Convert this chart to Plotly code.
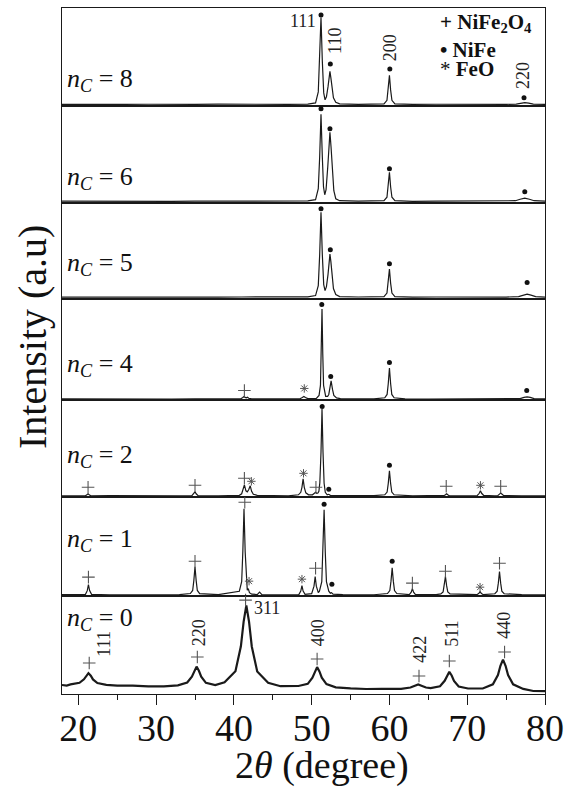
import plotly.graph_objects as go
from plotly.subplots import make_subplots

# ---------------- data (2theta in degree, intensity in a.u.) ----------------
sample_labels = ["8", "6", "5", "4", "2", "1", "0"]   # n_C, top to bottom

x8 = [17.9, 20, 23, 26, 29, 32, 35, 38, 41, 44, 47, 49.5, 50.5, 50.85, 51.03, 51.2, 51.37, 51.55, 51.72, 51.9,
      52.1, 52.23, 52.35, 52.47, 52.6, 52.8, 53.1, 53.6, 56, 58, 59.3, 59.68, 59.85, 60.0, 60.15, 60.32, 60.7,
      63, 66, 69, 72, 75, 76.3, 76.9, 77.4, 77.9, 78.5, 80]
y8 = [1.5, 1.3, 1.6, 1.4, 1.6, 1.3, 1.5, 1.7, 1.4, 1.6, 1.5, 1.8, 3, 14, 45, 88.5, 45, 13, 6, 9,
      19, 28, 34.5, 28, 19, 8, 3.5, 2, 1.5, 1.7, 2, 5.5, 16, 30.5, 16, 5.5, 2,
      1.5, 1.6, 1.4, 1.6, 1.5, 1.8, 2.8, 3.3, 2.8, 1.7, 1.5]

x6 = [17.9, 20, 23, 26, 29, 32, 35, 38, 41, 44, 47, 49.5, 50.5, 50.85, 51.03, 51.2, 51.37, 51.52, 51.68, 51.85,
      52.07, 52.21, 52.35, 52.49, 52.63, 52.85, 53.1, 53.6, 56, 58, 59.3, 59.68, 59.85, 60.0, 60.15, 60.32, 60.7,
      63, 66, 69, 72, 75, 76.2, 76.8, 77.4, 78.0, 78.6, 80]
y6 = [1.5, 1.4, 1.6, 1.3, 1.6, 1.4, 1.5, 1.6, 1.4, 1.6, 1.5, 1.8, 3, 14, 46, 88.5, 46, 16, 8, 13,
      36, 56, 70.5, 56, 36, 12, 4, 2, 1.5, 1.6, 2, 5.5, 16, 30.5, 16, 5.5, 2,
      1.4, 1.6, 1.5, 1.4, 1.6, 2, 3.5, 4.5, 3.5, 2, 1.5]

x5 = [17.9, 20, 23, 26, 29, 32, 35, 38, 41, 44, 47, 49.5, 50.5, 50.85, 51.03, 51.2, 51.37, 51.55, 51.72, 51.9,
      52.1, 52.23, 52.35, 52.47, 52.6, 52.8, 53.1, 53.6, 56, 58, 59.3, 59.68, 59.85, 60.0, 60.15, 60.32, 60.7,
      63, 66, 69, 72, 75, 76.6, 77.2, 77.7, 78.2, 78.8, 80]
y5 = [1.5, 1.3, 1.6, 1.4, 1.5, 1.3, 1.6, 1.4, 1.6, 1.5, 1.6, 1.8, 3, 13, 44, 86.5, 44, 14, 8, 12,
      24, 37, 44.5, 37, 24, 10, 4, 2, 1.6, 1.5, 2, 5.5, 15.5, 29.5, 15.5, 5.5, 2,
      1.5, 1.6, 1.4, 1.6, 1.5, 2, 3.5, 4.5, 3.5, 2, 1.5]

x4 = [17.9, 20, 23, 26, 29, 32, 35, 38, 40.9, 41.15, 41.3, 41.45, 41.6, 41.75, 41.9, 42.3, 45,
      48.5, 48.8, 49.0, 49.2, 49.5, 50.6, 50.95, 51.13, 51.23, 51.33, 51.43, 51.53,
      51.8, 52.05, 52.2, 52.32, 52.5, 52.68, 52.85, 53.2, 53.7, 56, 58,
      59.4, 59.7, 59.85, 60.0, 60.15, 60.3, 60.6, 62, 65, 68, 71, 74, 76.8, 77.3, 77.7, 78.1, 78.6, 80]
y4 = [1.5, 1.4, 1.6, 1.3, 1.6, 1.4, 1.6, 1.5, 1.7, 3, 4, 3, 2.6, 3.2, 2.2, 1.6, 1.5,
      1.7, 3, 4, 3, 1.8, 2, 5, 15, 46, 91.5, 46, 15,
      4, 4, 6, 11, 19.5, 11, 5, 2.5, 1.8, 1.5, 1.6,
      2.7, 6, 17, 32.5, 17, 6, 2.7, 1.6, 1.4, 1.6, 1.5, 1.6, 1.8, 3, 3.5, 3, 1.8, 1.5]

x2 = [17.9, 20, 20.9, 21.1, 21.25, 21.4, 21.6, 24, 27, 30, 33, 34.6, 34.85, 35.0, 35.15, 35.4, 38,
      40.7, 41.0, 41.2, 41.35, 41.55, 41.72, 41.9, 42.1, 42.28, 42.5, 43, 45, 47,
      48.3, 48.6, 48.75, 48.9, 49.05, 49.25, 49.6, 50.1, 50.35, 50.5, 50.65, 50.8, 50.93, 51.05,
      51.2, 51.33, 51.46, 51.6, 51.75, 52.0, 52.2, 52.4, 54, 56, 58,
      59.4, 59.7, 59.85, 60.0, 60.15, 60.3, 60.6, 63, 65, 67, 67.2, 67.35, 67.5, 67.7, 70,
      71.3, 71.55, 71.7, 71.85, 72.1, 73.5, 73.95, 74.15, 74.3, 74.45, 74.7, 77, 80]
y2 = [1.5, 1.3, 1.5, 2.4, 3.5, 2.4, 1.5, 1.6, 1.3, 1.6, 1.4, 1.6, 3.5, 5.5, 3.5, 1.6, 1.5,
      2.0, 3.5, 7.5, 12.5, 6.5, 5.5, 7.5, 11.5, 6, 3, 2, 1.6, 1.5,
      2.5, 5, 10, 18.5, 10, 4.5, 2.5, 2.5, 4, 5, 4, 4.3, 6, 14.5,
      45, 88.5, 45, 14, 5, 2.5, 3, 2, 1.6, 1.4, 1.6,
      2.5, 5.2, 14, 26.5, 14, 5.2, 2.5, 1.5, 1.6, 1.6, 2.5, 3.5, 2.5, 1.5, 1.4,
      1.8, 4, 6.5, 4, 2, 1.5, 1.8, 3.2, 4.5, 3.2, 1.6, 1.5, 1.4]

x1 = [17.9, 20, 20.9, 21.15, 21.3, 21.45, 21.7, 24, 27, 30, 33, 34.4, 34.7, 34.85, 35.0, 35.15, 35.3, 35.6, 38,
      40.7, 41.0, 41.15, 41.3, 41.45, 41.6, 41.72, 41.85, 42.0, 42.3, 43.0, 43.3, 43.6, 46,
      48.35, 48.6, 48.75, 48.9, 49.15, 50.0, 50.3, 50.45, 50.6, 50.85,
      51.0, 51.3, 51.45, 51.6, 51.75, 51.9, 52.2, 52.4, 52.55, 52.75, 54, 56, 58,
      59.75, 60.05, 60.2, 60.35, 60.5, 60.65, 60.95, 62.55, 62.8, 62.95, 63.1, 63.35, 66,
      66.6, 66.9, 67.05, 67.2, 67.35, 67.5, 67.8, 70, 71.25, 71.5, 71.65, 71.8, 72.05,
      73.55, 73.85, 74.0, 74.15, 74.3, 74.45, 74.75, 77, 80]
y1 = [1.5, 1.3, 1.6, 5.5, 11.5, 5.5, 1.8, 1.4, 1.7, 1.3, 1.6, 2.6, 5.7, 15.5, 29.5, 15.5, 5.7, 2.6, 1.5,
      4.9, 14.5, 44.5, 87.5, 44.5, 15, 6, 7.5, 3.5, 2.0, 1.6, 4.0, 1.6, 1.4,
      1.6, 5, 10.5, 5, 1.8, 2.5, 10, 19.5, 10, 3.5,
      4.9, 14.5, 44, 86.5, 44, 14.5, 4.9, 3, 3.5, 2, 1.5, 1.7, 1.4,
      2.6, 5.6, 15, 28.5, 15, 5.6, 2.6, 1.5, 3.9, 7.5, 3.9, 1.5, 1.6,
      2.2, 4.2, 10.5, 19.5, 10.5, 4.2, 2.2, 1.4, 1.5, 2.8, 4.5, 2.8, 1.5,
      2.4, 5, 13, 24.5, 13, 5, 2.4, 1.5, 1.4]

x0 = [17.9, 18.5, 19.0, 20.15, 20.72, 21.0, 21.3, 21.6, 21.88, 22.45, 23.6, 25, 27, 29, 31,
      32.8, 34.0, 34.6, 34.9, 35.2, 35.5, 35.8, 36.4, 37.6, 38.8, 40.2, 40.9, 41.25, 41.6, 41.95, 42.3, 43.0, 44.4, 46,
      48.3, 49.5, 50.1, 50.4, 50.7, 51.0, 51.3, 51.9, 53.1, 55, 57, 59,
      61.5, 62.7, 63.2, 63.7, 64.2, 64.7, 65.3, 66.5, 67.1, 67.4, 67.7, 68.0, 68.3, 68.9, 70.1,
      72.0, 73.3, 73.95, 74.27, 74.6, 74.93, 75.25, 75.9, 77.2, 78.5, 80]
y0 = [9.0, 8.5, 9.6, 11.2, 14.7, 18.3, 20.9, 18.3, 14.6, 11.0, 9.2, 8.3, 8.4, 7.6, 7.7,
      8.7, 11.5, 17.4, 23.4, 27.4, 23.3, 17.3, 11.2, 9.0, 11.8, 22.8, 47.8, 72.3, 88.7, 72.3, 47.6, 22.6, 11.2, 7.8,
      8.0, 10.2, 16.4, 22.7, 26.9, 22.6, 16.3, 9.9, 6.7, 5.6, 5.0, 5.2,
      5.2, 6.5, 8.0, 9.5, 8.0, 6.5, 5.9, 7.7, 13.2, 18.6, 22.2, 18.5, 13.1, 7.5, 5.5,
      5.5, 9.7, 19.0, 28.3, 34.5, 28.3, 19.0, 9.7, 5.1, 3.0, 2.9]

# phase markers (2theta, intensity) per pattern
nc8_dot = [(51.2, 91), (52.4, 42), (60.05, 37), (77.3, 8)]
nc6_dot = [(51.2, 94), (52.35, 74), (60.0, 34), (77.4, 11)]
nc5_dot = [(51.2, 90), (52.4, 49), (60.0, 35), (77.7, 16)]
nc4_dot = [(51.3, 96), (52.45, 24), (60.0, 38), (77.65, 10)]
nc4_plus = [(41.35, 10)]
nc4_star = [(49.05, 12)]
nc2_plus = [(21.25, 10), (35.0, 12), (41.35, 19), (50.55, 10), (67.3, 11), (74.3, 11)]
nc2_star = [(42.25, 16), (48.95, 24), (71.7, 12)]
nc2_dot = [(51.35, 91), (52.2, 8), (60.0, 32)]
nc1_plus = [(21.3, 19), (35.0, 35), (41.4, 94), (50.5, 28), (62.95, 13), (67.2, 25), (74.15, 33)]
nc1_star = [(41.95, 15), (48.75, 17), (71.65, 9)]
nc1_dot = [(51.6, 92), (52.6, 12), (60.35, 35)]
nc0_plus = [(21.4, 31), (35.3, 37), (41.5, 94), (50.7, 35), (63.8, 18), (67.7, 33), (74.8, 42)]

# Miller indices: (text, 2theta, intensity)
hkl_nc0_rot = [("111", 23.25, 50), ("220", 35.55, 61), ("400", 50.85, 61),
               ("422", 63.9, 45), ("511", 68.0, 60), ("440", 74.8, 69)]
hkl_nc0_flat = [("311", 42.3, 86)]
hkl_nc8_rot = [("110", 53.0, 65), ("200", 60.1, 58), ("220", 77.2, 30)]
hkl_nc8_flat = [("111", 50.75, 85)]

legend_lines = ["+ NiFe<sub>2</sub>O<sub>4</sub>", "• NiFe", "<span style='font-weight:normal'>*</span> FeO"]

x_ticks = [20, 30, 40, 50, 60, 70, 80]

# ---------------- layout ----------------
panel_heights = [98, 97, 96, 102, 97, 99, 98]
patterns_x = [x8, x6, x5, x4, x2, x1, x0]
patterns_y = [y8, y6, y5, y4, y2, y1, y0]
dots = [nc8_dot, nc6_dot, nc5_dot, nc4_dot, nc2_dot, nc1_dot, []]
pluses = [[], [], [], nc4_plus, nc2_plus, nc1_plus, nc0_plus]
stars = [[], [], [], nc4_star, nc2_star, nc1_star, []]
label_y = [26, 25, 35, 35, 41, 56, 75]

SERIF = "Liberation Serif, Times New Roman, serif"
INK = "#1a1a1a"

fig = make_subplots(rows=7, cols=1, shared_xaxes=True, vertical_spacing=0,
                    row_heights=panel_heights)

for i in range(7):
    r = i + 1
    fig.add_trace(go.Scatter(x=patterns_x[i], y=patterns_y[i], mode="lines",
                             line=dict(color=INK, width=2.2 if i == 6 else 1.2),
                             hoverinfo="skip", showlegend=False), row=r, col=1)
    if pluses[i]:
        fig.add_trace(go.Scatter(x=[p[0] for p in pluses[i]], y=[p[1] for p in pluses[i]], mode="markers",
                                 marker=dict(symbol="cross-thin", size=9, line=dict(color="#555", width=1.1)),
                                 showlegend=False, cliponaxis=False), row=r, col=1)
    if dots[i]:
        fig.add_trace(go.Scatter(x=[p[0] for p in dots[i]], y=[p[1] for p in dots[i]], mode="markers",
                                 marker=dict(symbol="circle", size=5, color="#111"),
                                 showlegend=False, cliponaxis=False), row=r, col=1)
    if stars[i]:
        fig.add_trace(go.Scatter(x=[p[0] for p in stars[i]], y=[p[1] for p in stars[i]], mode="markers",
                                 marker=dict(symbol="asterisk", size=7, line=dict(color="#555", width=1)),
                                 showlegend=False, cliponaxis=False), row=r, col=1)
    fig.update_yaxes(range=[0, panel_heights[i]], showline=True, mirror=True, linecolor=INK, linewidth=1.4,
                     showticklabels=False, ticks="", showgrid=False, zeroline=False, row=r, col=1)
    fig.update_xaxes(range=[17.9, 80], showline=True, mirror=True, linecolor=INK, linewidth=1.4,
                     showgrid=False, zeroline=False, ticks="", showticklabels=False, row=r, col=1)
    ax = "" if r == 1 else str(r)
    fig.add_annotation(xref="x" + ax, yref="y" + ax, x=18.25, y=label_y[i], xanchor="left", yanchor="middle",
                       text="<i>n</i><sub><i>C</i></sub> = " + sample_labels[i], showarrow=False,
                       font=dict(family=SERIF, size=26, color="#111"))

fig.update_xaxes(ticks="outside", ticklen=10, tickwidth=1.4, tickcolor=INK, showticklabels=True,
                 tickvals=x_ticks, ticktext=[str(v) for v in x_ticks], ticklabelstandoff=-10,
                 tickfont=dict(family=SERIF, size=38, color="#111"),
                 minor=dict(ticks="outside", ticklen=5, tickwidth=1.4, tickcolor=INK, dtick=5, tick0=0),
                 row=7, col=1)

for t, xv, yv in hkl_nc0_rot:
    fig.add_annotation(xref="x7", yref="y7", x=xv, y=yv, text=t, textangle=-90, showarrow=False,
                       font=dict(family=SERIF, size=18, color="#222"))
for t, xv, yv in hkl_nc0_flat:
    fig.add_annotation(xref="x7", yref="y7", x=xv, y=yv, text=t, xanchor="left", showarrow=False,
                       font=dict(family=SERIF, size=18, color="#222"))
for t, xv, yv in hkl_nc8_rot:
    fig.add_annotation(xref="x", yref="y", x=xv, y=yv, text=t, textangle=-90, showarrow=False,
                       font=dict(family=SERIF, size=18, color="#222"))
for t, xv, yv in hkl_nc8_flat:
    fig.add_annotation(xref="x", yref="y", x=xv, y=yv, text=t, xanchor="right", showarrow=False,
                       font=dict(family=SERIF, size=18, color="#222"))

legend_y = [0.978, 0.939, 0.911]
for t, yv in zip(legend_lines, legend_y):
    fig.add_annotation(xref="paper", yref="paper", x=0.779, y=yv, xanchor="left", yanchor="middle",
                       text="<b>" + t + "</b>", showarrow=False,
                       font=dict(family=SERIF, size=21, color="#111"))

fig.add_annotation(xref="paper", yref="paper", x=0.538, y=-0.104, xanchor="center", yanchor="middle",
                   text="2<i>θ</i> (degree)", showarrow=False, font=dict(family=SERIF, size=38, color="#111"))
fig.add_annotation(xref="paper", yref="paper", x=-0.0613, y=0.521, xanchor="center", yanchor="middle",
                   text="Intensity (a.u)", textangle=-90, showarrow=False,
                   font=dict(family=SERIF, size=40, color="#111"))

fig.update_layout(width=571, height=787, margin=dict(l=62, r=20, t=7, b=93),
                  paper_bgcolor="white", plot_bgcolor="white", showlegend=False)

fig.write_html("out.html")
